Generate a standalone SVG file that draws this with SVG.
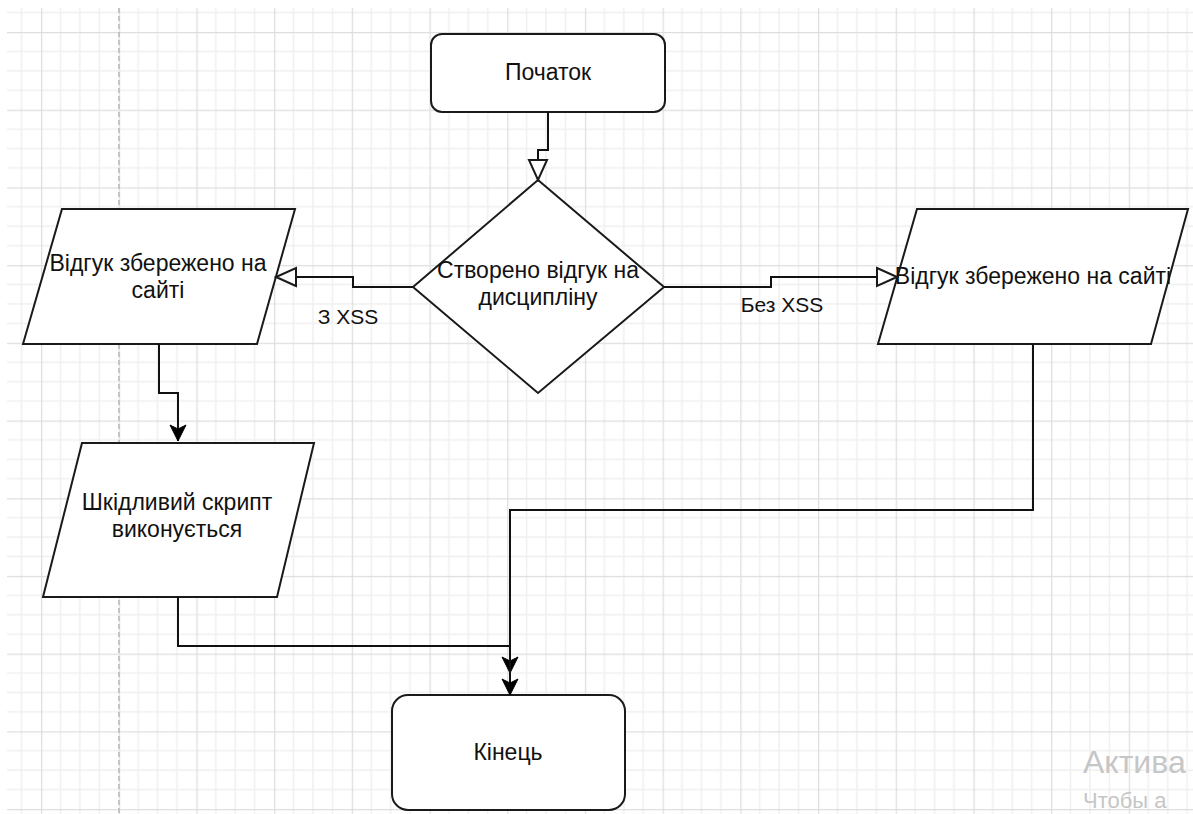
<svg xmlns="http://www.w3.org/2000/svg" width="1193" height="814" viewBox="0 0 1193 814">
<defs>
<pattern id="grid" patternUnits="userSpaceOnUse" x="41" y="32" width="77.7" height="77.7">
<path d="M19.425,0V77.7M38.85,0V77.7M58.275,0V77.7M0,19.425H77.7M0,38.85H77.7M0,58.275H77.7" stroke="#f0f0f0" stroke-width="1.5" fill="none"/>
<path d="M0.5,0V77.7M0,0.5H77.7" stroke="#dedede" stroke-width="1.5" fill="none"/>
</pattern>
<marker id="open" markerUnits="userSpaceOnUse" markerWidth="24" markerHeight="22" refX="20" refY="9" orient="auto" viewBox="-2 -2 24 22">
<path d="M0,0 L20,9 L0,18 Z" fill="#fff" stroke="#1a1a1a" stroke-width="2"/>
</marker>
<marker id="fill" markerUnits="userSpaceOnUse" markerWidth="20" markerHeight="20" refX="16" refY="8" orient="auto" viewBox="-2 -2 20 20">
<path d="M0,0 L16,8 L0,16 L4,8 Z" fill="#000" stroke="#000" stroke-width="1"/>
</marker>
</defs>
<style>
.node{fill:#fff;stroke:#1a1a1a;stroke-width:2}
.t{font-family:"Liberation Sans",Arial,sans-serif;font-size:23px;fill:#111;text-anchor:middle}
.lbl{font-family:"Liberation Sans",Arial,sans-serif;font-size:21px;fill:#111;text-anchor:middle}
.c{fill:none;stroke:#111;stroke-width:2}
.wm{font-family:"Liberation Sans",Arial,sans-serif;fill:#c6c6c6}
</style>
<rect width="1193" height="814" fill="#fff"/>
<rect x="7" y="8" width="1186" height="806" fill="url(#grid)"/>
<line x1="119" y1="8" x2="119" y2="814" stroke="#c4c4c4" stroke-width="2" stroke-dasharray="5,3"/>

<g id="start">
<rect class="node" x="431" y="34" width="234" height="78" rx="11"/>
<text class="t" x="548" y="80">Початок</text>
</g>
<g id="decision">
<polygon class="node" points="538,180 664,287 538,393 413,287"/>
<text class="t" x="538" y="278">Створено відгук на</text>
<text class="t" x="538" y="305">дисципліну</text>
</g>
<g id="saved-left">
<polygon class="node" points="62,209 295,209 257,344 23,344"/>
<text class="t" x="158" y="271">Відгук збережено на</text>
<text class="t" x="158" y="298">сайті</text>
</g>
<g id="saved-right">
<polygon class="node" points="917,209 1188,209 1151,344 878,344"/>
<text class="t" x="1033" y="284">Відгук збережено на сайті</text>
</g>
<g id="script">
<polygon class="node" points="82,443 314,443 277,597 43,597"/>
<text class="t" x="177" y="510">Шкідливий скрипт</text>
<text class="t" x="177" y="537">виконується</text>
</g>
<g id="end">
<rect class="node" x="392" y="695" width="233" height="115" rx="16"/>
<text class="t" x="508" y="760">Кінець</text>
</g>

<g id="connectors">
<path class="c" d="M548,112 V150 H538 V180" marker-end="url(#open)"/>
<path class="c" d="M413,287 H353 V277 H276" marker-end="url(#open)"/>
<path class="c" d="M664,287 H771 V277 H897" marker-end="url(#open)"/>
<path class="c" d="M159,344 V393 H178 V441" marker-end="url(#fill)"/>
<path class="c" d="M178,597 V646 H510 V673" marker-end="url(#fill)"/>
<path class="c" d="M1033,344 V510 H510 V695" marker-end="url(#fill)"/>
<text class="lbl" x="348" y="324">З XSS</text>
<text class="lbl" x="782" y="312">Без XSS</text>
</g>

<text class="wm" x="1083" y="773" font-size="32">Актива</text>
<text class="wm" x="1083" y="808" font-size="22">Чтобы а</text>
</svg>
